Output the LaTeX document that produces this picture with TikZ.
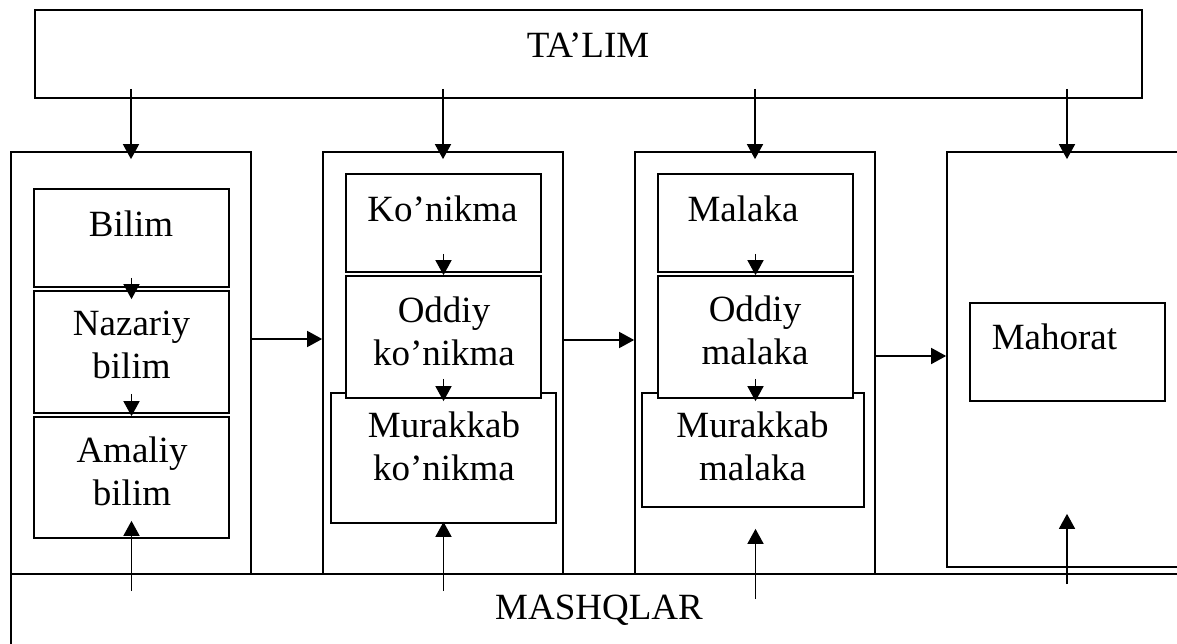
\documentclass[tikz,border=0pt]{standalone}
\usepackage{fontspec}
\setmainfont{Liberation Serif}
\usetikzlibrary{arrows.meta}

\begin{document}
\begin{tikzpicture}[x=1pt, y=-1pt,
    box/.style={draw, line width=1.7pt, inner sep=0pt},
    txt/.style={inner sep=0pt, align=center, font=\fontsize{37}{43}\selectfont},
    arr/.style={line width=1.6pt, -{Triangle[length=15pt,width=16pt]}}]
    \useasboundingbox (0,0) rectangle (1177,644);
    \clip (0,0) rectangle (1177,644);
    \fill[white] (0,0) rectangle (1177,644);

    % outer frames
    \node[box, minimum width=1107pt, minimum height=88pt] (talim) at (588.5,54) {};
    \node[box, minimum width=240pt, minimum height=422pt] (col1) at (131,363) {};
    \node[box, minimum width=240pt, minimum height=422pt] (col2) at (443,363) {};
    \node[box, minimum width=240pt, minimum height=422pt] (col3) at (755,363) {};
    \node[box, minimum width=240pt, minimum height=415pt] (col4) at (1067,359.5) {};
    \node[box, minimum width=1200pt, minimum height=100pt] (mashqlar) at (611,624) {};

    % inner boxes
    \node[box, minimum width=195pt, minimum height=98pt] (bilim) at (131.5,238) {};
    \node[box, minimum width=195pt, minimum height=122pt] (nazariy) at (131.5,352) {};
    \node[box, minimum width=195pt, minimum height=121pt] (amaliy) at (131.5,477.5) {};
    \node[box, minimum width=195pt, minimum height=98pt] (konikma) at (443.5,223) {};
    \node[box, minimum width=225pt, minimum height=130pt] (murkon) at (443.5,458) {};
    \node[box, fill=white, minimum width=195pt, minimum height=122pt] (oddkon) at (443.5,337) {};
    \node[box, minimum width=195pt, minimum height=98pt] (malaka) at (755.5,223) {};
    \node[box, minimum width=222pt, minimum height=114pt] (murmal) at (753,450) {};
    \node[box, fill=white, minimum width=195pt, minimum height=122pt] (oddmal) at (755.5,337) {};
    \node[box, minimum width=195pt, minimum height=98pt] (mahorat) at (1067.5,352) {};

    % texts
    \node[txt] (talim-t) at (588,45) {TA’LIM};
    \node[txt] (bilim-t) at (131,224) {Bilim};
    \node[txt] (nazariy-t) at (131.5,345) {Nazariy\\bilim};
    \node[txt] (amaliy-t) at (132,471.5) {Amaliy\\bilim};
    \node[txt] (konikma-t) at (442.5,209) {Ko’nikma};
    \node[txt] (oddkon-t) at (444,331) {Oddiy\\ko’nikma};
    \node[txt] (murkon-t) at (444,446.5) {Murakkab\\ko’nikma};
    \node[txt] (malaka-t) at (743,209) {Malaka};
    \node[txt] (oddmal-t) at (755,330.5) {Oddiy\\malaka};
    \node[txt] (murmal-t) at (752.5,446.5) {Murakkab\\malaka};
    \node[txt] (mahorat-t) at (1054.5,337) {Mahorat};
    \node[txt] (mashqlar-t) at (599,610) {MASHQLAR};

    % from TA’LIM down to every column
    \foreach \c in {col1,col2,col3,col4}
        \draw[arr] ([yshift=10pt]talim.south -| \c.north) -- ([yshift=-8pt]\c.north);

    % inside the columns
    \draw[arr] ([yshift=10pt]bilim.south) -- ([yshift=-9pt]nazariy.north);
    \draw[arr] ([yshift=20pt]nazariy.south) -- (amaliy.north);
    \draw[arr] ([yshift=19pt]konikma.south) -- (oddkon.north);
    \draw[arr] ([yshift=20pt]oddkon.south) -- ([yshift=-9pt]murkon.north);
    \draw[arr] ([yshift=19pt]malaka.south) -- (oddmal.north);
    \draw[arr] ([yshift=20pt]oddmal.south) -- ([yshift=-9pt]murmal.north -| oddmal.south);

    % column to column
    \draw[arr] ([yshift=24pt]col1.east) -- ([yshift=24pt]col2.west);
    \draw[arr] ([yshift=23pt]col2.east) -- ([yshift=23pt]col3.west);
    \draw[arr] ([yshift=7pt]col3.east) -- ([yshift=7pt]col3.east -| col4.west);

    % from MASHQLAR up
    \draw[arr] ([yshift=-18pt]mashqlar.north -| amaliy.south) -- ([yshift=18pt]amaliy.south);
    \draw[arr] ([yshift=-18pt]mashqlar.north -| murkon.south) -- ([yshift=2pt]murkon.south);
    \draw[arr] ([yshift=-26pt]mashqlar.north -| oddmal.south) -- ([yshift=-21pt]murmal.south -| oddmal.south);
    \draw[arr] ([yshift=-11pt]mashqlar.north -| col4.south) -- ([yshift=54pt]col4.south);
\end{tikzpicture}
\end{document}
